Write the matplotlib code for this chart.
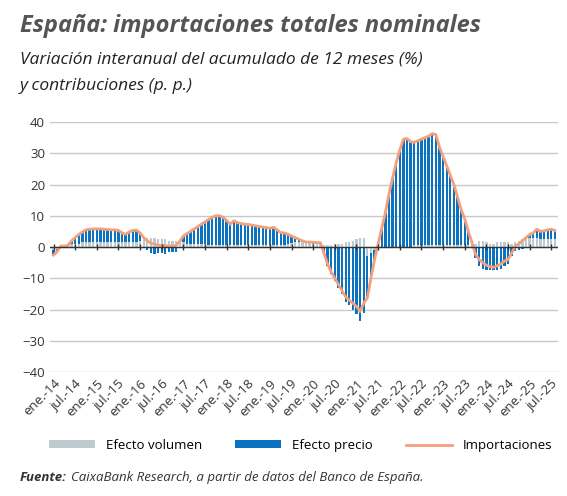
import numpy as np
import matplotlib.pyplot as plt

plt.rcParams['font.family'] = ['Open Sans', 'DejaVu Sans']

# monthly, ene-14 .. ago-25
total = [-2.6, -1.5, 0.3, 0.3, 0.5, 2, 3, 4, 4.8, 5.5, 5.7, 5.8,
         5.8, 5.8, 5.7, 5.6, 5.5, 5.5, 5.3, 4.5, 4.1, 4.8, 5.3, 5.4,
         4.5, 3, 2, 1.2, 0.9, 0.6, 0.5, 0.4, 0.3, 0.3, 0.5, 1.8,
         3.5, 4.3, 5, 5.8, 6.5, 7.3, 8, 8.8, 9.5, 10, 10, 9.5,
         8.5, 7.3, 8.4, 7.8, 7.5, 7.3, 7.2, 7, 6.8, 6.6, 6.4, 6.2,
         6, 6.3, 5.5, 4.6, 4.5, 4.1, 3.5, 3, 2.5, 2, 1.6, 1.6,
         1.5, 1.4, 1.4, -2, -5.5, -8, -10, -12, -14, -16, -17, -18,
         -19, -20.6, -18, -16.3, -10, -4, 1, 6, 11, 17, 22, 27,
         31, 34.5, 34.7, 33.7, 33.5, 34, 34.5, 35, 35.5, 36.3, 36, 32,
         29, 26, 23, 20, 16, 12, 9, 5, 1.5, -2.4, -4, -5,
         -5.8, -6.3, -6.5, -6, -5.5, -4.5, -4, -2, 0.3, 1, 2, 3,
         4, 4.5, 5.7, 5, 5.2, 5.5, 5.7, 5.3]
volumen = [-1, -0.5, 0.5, 0.5, 0.5, 1, 1, 1, 1.5, 1.5, 1.5, 1.5,
           1.5, 1.5, 1.5, 1.5, 1.5, 1.5, 1.5, 1.5, 1.5, 1.5, 1.5, 1.5,
           2, 2.5, 3, 3, 3, 2.5, 2.5, 2.5, 2, 2, 2, 1.5,
           1.5, 1, 1, 1, 1, 1, 1, 0.5, 0.5, 0.5, 0.5, 0.5,
           0.5, 0.5, 0.5, 0.5, 0.5, 0.5, 0.5, 0.5, 0.5, 0.5, 0.5, 0.5,
           0.5, 0.5, 0.5, 0.5, 0.8, 1, 1.2, 1.5, 1.5, 1.5, 1.5, 1.2,
           1, 1, 1, 0.5, 0.5, 0.5, 1, 1, 1, 1.5, 1.5, 2,
           2.5, 3, 3, -3, -2, -1, -0.5, 0, 0, 0, 0, 0,
           0, 0, 0, 0, 0.5, 0.5, 0.5, 0.5, 0.5, 0.5, 0.5, 0.5,
           0.5, 0.5, 0.5, 0.5, 0.5, 0.5, 0.5, 0.5, 0.5, 1, 2, 2,
           1.5, 1, 1, 1.5, 1.5, 1.5, 1.5, 1, 1.5, 2, 2.5, 3,
           3, 3, 3, 2.5, 2.5, 2.5, 2.5, 2.5]
precio = [t - v for t, v in zip(total, volumen)]

years = list(range(14, 26))
tick_labels = []
for y in years:
    tick_labels += ['ene.-%d' % y, 'jul.-%d' % y]

x = np.arange(len(total))
vol = np.array(volumen)
pre = np.array(precio)
bottom = np.where(np.sign(vol) == np.sign(pre), vol, 0)

fig = plt.figure(figsize=(5.67, 4.96), dpi=100)
ax = fig.add_axes([0.088, 0.25, 0.897, 0.504])

b1 = ax.bar(x, vol, width=0.65, color='#bccbd0', label='Efecto volumen', zorder=2)
b2 = ax.bar(x, pre, width=0.65, bottom=bottom, color='#0b72c0', label='Efecto precio', zorder=2)
l1, = ax.plot(x, total, color='#f4a07c', lw=2, label='Importaciones', zorder=3)

ax.set_ylim(-40, 40)
ax.set_yticks(range(-40, 41, 10))
ax.set_xlim(-1, len(total))
ax.grid(axis='y', color='#c8c8c8', lw=1, zorder=0)
ax.set_axisbelow(True)
for s in ax.spines.values():
    s.set_visible(False)
ax.axhline(0, color='#333333', lw=1, zorder=4)
ticks = np.arange(0, len(total), 6)
ax.plot(ticks, np.zeros(len(ticks)), ls='none', marker='|', ms=5, mew=1, color='#333333', zorder=4)
ax.set_xticks(ticks)
ax.set_xticklabels(tick_labels[:len(ticks)], rotation=45, ha='right', rotation_mode='anchor',
                   fontsize=9.5, color='#333333')
ax.tick_params(axis='both', length=0, colors='#333333', labelsize=9.5)

fig.text(0.035, 0.935, 'España: importaciones totales nominales', fontsize=17,
         fontweight='bold', style='italic', color='#555555')
fig.text(0.035, 0.872, 'Variación interanual del acumulado de 12 meses (%)', fontsize=12.5,
         style='italic', color='#222222')
fig.text(0.035, 0.818, 'y contribuciones (p. p.)', fontsize=12.5, style='italic', color='#222222')

fig.legend(handles=[b1, b2, l1], loc='lower center', bbox_to_anchor=(0.53, 0.065), ncol=3,
           frameon=False, fontsize=9.5, handlelength=3.5, handleheight=0.5, columnspacing=2.5)

fig.text(0.035, 0.03, 'Fuente:', fontsize=9.5, fontweight='bold', style='italic', color='#333333')
fig.text(0.125, 0.03, 'CaixaBank Research, a partir de datos del Banco de España.', fontsize=9.5,
         style='italic', color='#333333')

fig.savefig('out.png', dpi=100)
